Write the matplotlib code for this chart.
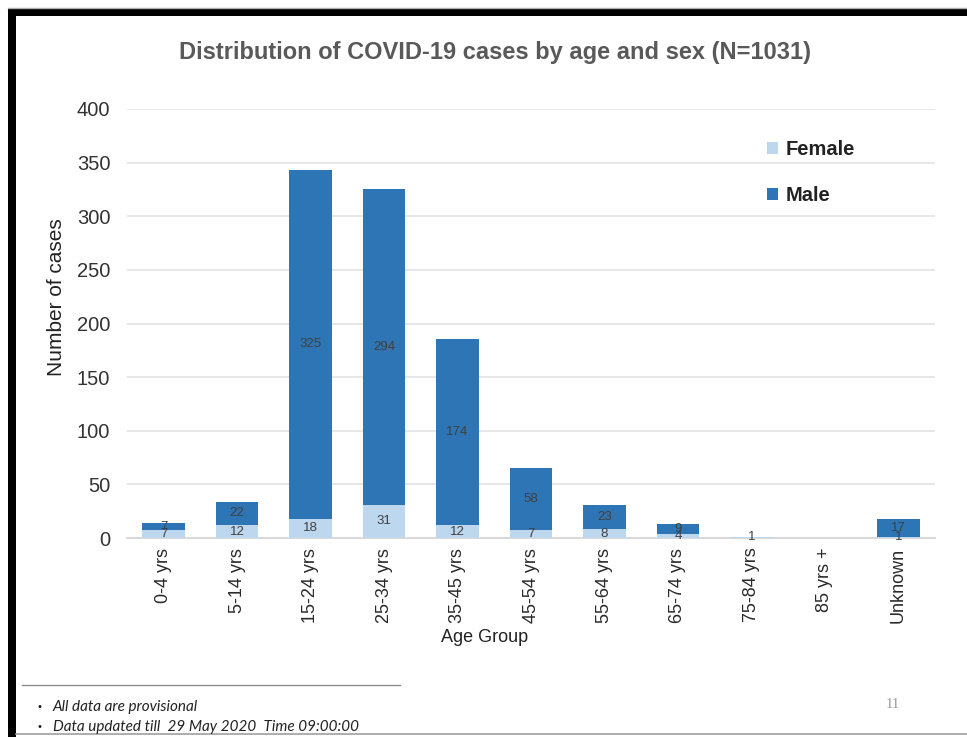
import matplotlib
matplotlib.use("Agg")
import matplotlib.pyplot as plt
from matplotlib.patches import Rectangle
from matplotlib.lines import Line2D
import numpy as np

plt.rcParams["font.family"] = ["Liberation Sans", "DejaVu Sans"]

age_groups = ["0-4 yrs", "5-14 yrs", "15-24 yrs", "25-34 yrs", "35-45 yrs", "45-54 yrs",
              "55-64 yrs", "65-74 yrs", "75-84 yrs", "85 yrs +", "Unknown"]
female = [7, 12, 18, 31, 12, 7, 8, 4, 1, 0, 1]
male = [7, 22, 325, 294, 174, 58, 23, 9, 0, 0, 17]
y_ticks = [0, 50, 100, 150, 200, 250, 300, 350, 400]

FEMALE_C = "#BDD7EE"
MALE_C = "#2E75B6"
TEXT_C = "#404040"

fig = plt.figure(figsize=(9.67, 7.37), dpi=100)
fig.patch.set_facecolor("white")

W, H = 967, 737
def fx(px):
    return px / W
def fy(py):
    return 1 - py / H

ax = fig.add_axes([fx(127), fy(538), fx(935) - fx(127), fy(109) - fy(538)])
x = np.arange(len(age_groups))
bw = 0.58
ax.bar(x, female, bw, color=FEMALE_C, label="Female", zorder=3)
ax.bar(x, male, bw, bottom=female, color=MALE_C, label="Male", zorder=3)

for i in range(len(age_groups)):
    if female[i] > 0:
        ax.text(x[i], female[i] / 2, str(female[i]), ha="center", va="center",
                fontsize=9.5, color=TEXT_C, zorder=4)
    if male[i] > 0:
        ax.text(x[i], female[i] + male[i] / 2, str(male[i]), ha="center", va="center",
                fontsize=9.5, color=TEXT_C, zorder=4)

ax.set_xlim(-0.5, len(age_groups) - 0.5)
ax.set_ylim(0, 400)
ax.set_yticks(y_ticks)
ax.set_yticklabels([str(v) for v in y_ticks], fontsize=14.5, color="#333333")
ax.set_xticks(x)
ax.set_xticklabels(age_groups, rotation=90, fontsize=13, color="#2a2a2a")
ax.tick_params(axis="y", length=0, pad=12)
ax.tick_params(axis="x", length=0, pad=7)
ax.grid(axis="y", color="#E3E3E3", lw=1.2, zorder=0)
for s in ["top", "right", "left"]:
    ax.spines[s].set_visible(False)
ax.spines["bottom"].set_color("#D9D9D9")
ax.spines["bottom"].set_linewidth(1.5)

ax.set_ylabel("Number of cases", fontsize=15, color="#222222")
ax.yaxis.set_label_coords(-0.075, 0.562)
ax.set_xlabel("Age Group", fontsize=13, color="#222222")
ax.xaxis.set_label_coords(0.442, -0.212)

leg = ax.legend(loc="upper left", bbox_to_anchor=(0.77, 0.97), frameon=False,
                handlelength=0.55, handleheight=0.55, handletextpad=0.35,
                labelspacing=1.35, prop={"weight": "bold", "size": 14.5})
for t in leg.get_texts():
    t.set_color("#222222")

fig.text(fx(495), fy(52), "Distribution of COVID-19 cases by age and sex (N=1031)",
         ha="center", va="center", fontsize=17, fontweight="bold", color="#595959")

# slide frame
fig.add_artist(Line2D([fx(8), 1], [fy(8), fy(8)], color="#B0B0B0", lw=1))
fig.add_artist(Rectangle((fx(8), fy(16)), 1 - fx(8), fy(9) - fy(16),
                         transform=fig.transFigure, color="black", lw=0))
fig.add_artist(Rectangle((fx(8), 0), fx(16) - fx(8), fy(9),
                         transform=fig.transFigure, color="black", lw=0))
fig.add_artist(Line2D([fx(16), 1], [fy(734), fy(734)], color="#A0A0A0", lw=1.2))

# footnotes
fig.add_artist(Line2D([fx(22), fx(400)], [fy(685), fy(685)], color="#8C8C8C", lw=1))
fig.text(fx(38), fy(707), "•", ha="left", va="center", fontsize=8, color="#222222")
fig.text(fx(53), fy(707), "All data are provisional", ha="left", va="center",
         fontsize=11, style="italic", family="Lato", color="#222222")
fig.text(fx(38), fy(727), "•", ha="left", va="center", fontsize=8, color="#222222")
fig.text(fx(53), fy(727), "Data updated till  29 May 2020  Time 09:00:00", ha="left",
         va="center", fontsize=11, style="italic", family="Lato", color="#222222")
fig.text(fx(893), fy(704), "11", ha="center", va="center", fontsize=10.5,
         family="Liberation Serif", color="#999999")

fig.savefig("out.png", dpi=100, facecolor="white")
